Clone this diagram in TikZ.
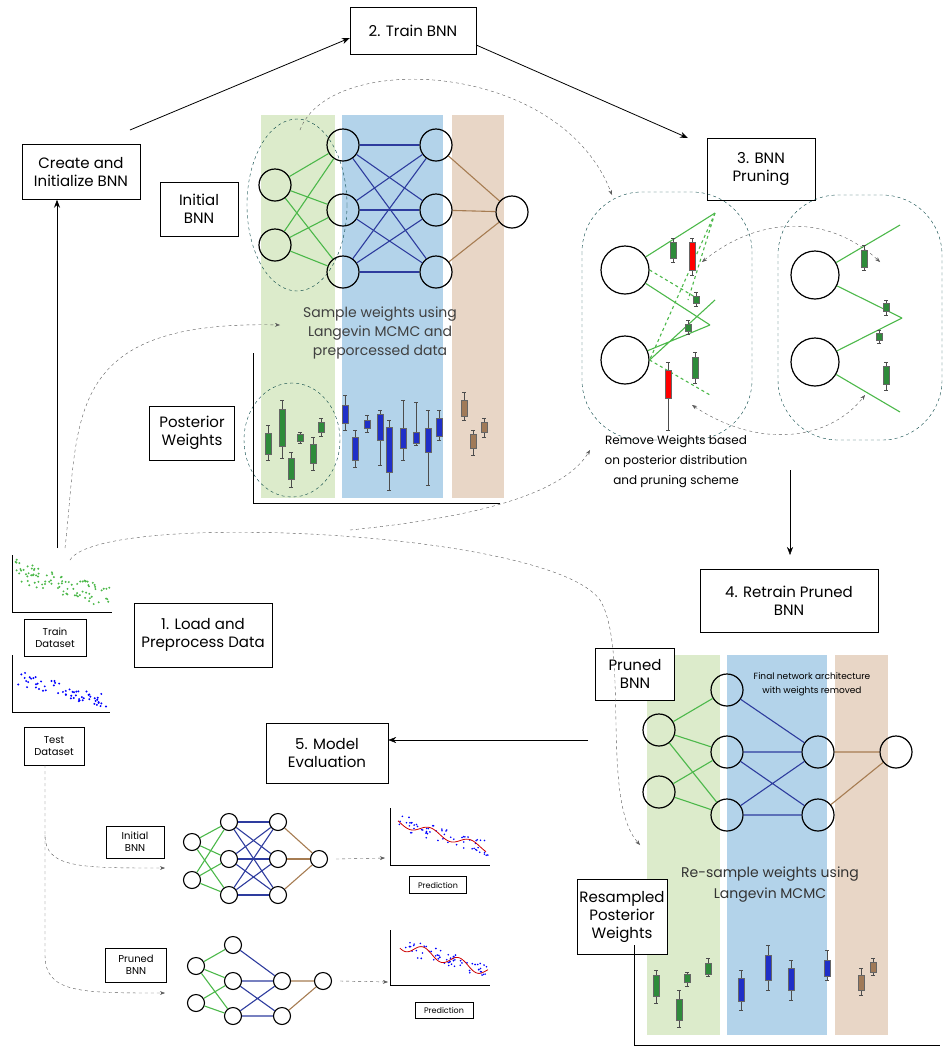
\documentclass[tikz,border=0pt]{standalone}
\usepackage{fontspec}
\setmainfont{Poppins}
\usetikzlibrary{arrows.meta}
\definecolor{gcol}{HTML}{DCEBCB}
\definecolor{bcol}{HTML}{B3D3EA}
\definecolor{tcol}{HTML}{E8D6C6}
\definecolor{ge}{HTML}{4CB84A}
\definecolor{be}{HTML}{2E3C9E}
\definecolor{te}{HTML}{A67C52}
\definecolor{bg}{HTML}{2E8B3A}
\definecolor{bb}{HTML}{1F2FC8}
\definecolor{bt}{HTML}{A07A58}
\newcommand\bxp[6]{\draw[black!70,thin] (#1,#2)--(#1,#5) (#1-2,#2)--(#1+2,#2) (#1-2,#5)--(#1+2,#5);
 \fill[#6,draw=black!60,thin] (#1-3,#3) rectangle (#1+3,#4);}
\begin{document}
\begin{tikzpicture}[x=1pt,y=-1pt,
 box/.style={draw,thin,fill=white,align=center,font=\fontsize{15}{18}\selectfont,inner sep=0pt},
 sbox/.style={draw,thin,fill=white,align=center,font=\fontsize{10}{12}\selectfont,inner sep=0pt},
 nd/.style={circle,draw,line width=1.2pt,minimum size=32pt,inner sep=0pt},
 bn/.style={circle,draw,line width=1.2pt,fill=white,minimum size=48pt,inner sep=0pt},
 mn/.style={circle,draw,line width=1.1pt,fill=white,minimum size=17pt,inner sep=0pt},
 ed/.style={line width=1.1pt},
 arr/.style={-{Stealth[length=8pt]},thick},
 dsh/.style={dashed,black!65,-{Stealth[length=5pt]},thin},
 dell/.style={dashed,draw=teal!50!black,thin}]
\useasboundingbox (0,0) rectangle (949,1053);
% top columns
\fill[gcol] (261,115) rectangle (335,498);
\fill[bcol] (342,115) rectangle (443,498);
\fill[tcol] (452,115) rectangle (504,498);
\draw[dell] (297,205) ellipse (50 and 86);
\draw[dell] (292,440) ellipse (48 and 57);
\node[nd] (a1) at (275,185) {}; \node[nd] (a2) at (275,245) {};
\node[nd] (b1) at (343,145) {}; \node[nd] (b2) at (343,210) {}; \node[nd] (b3) at (343,272) {};
\node[nd] (c1) at (436,145) {}; \node[nd] (c2) at (436,210) {}; \node[nd] (c3) at (436,272) {};
\node[nd] (o) at (512,212) {};
\foreach \i in {a1,a2} \foreach \j in {b1,b2,b3} \draw[ge,ed] (\i)--(\j);
\foreach \i in {b1,b2,b3} \foreach \j in {c1,c2,c3} \draw[be,ed] (\i)--(\j);
\foreach \i in {c1,c2,c3} \draw[te,ed] (\i)--(o);
\node[align=center,font=\fontsize{14}{19}\selectfont,text=black!75] (st) at (380,333) {Sample weights using\\Langevin MCMC and\\preporcessed data};
\draw[thick] (253,353)--(253,503)--(500,503);
\bxp{268}{425}{433}{454}{460}{bg}\bxp{282}{400}{409}{446}{458}{bg}\bxp{291}{452}{458}{479}{487}{bg}
\bxp{300}{432}{434}{441}{443}{bg}\bxp{313}{437}{444}{463}{470}{bg}\bxp{321}{418}{422}{432}{436}{bg}
\bxp{345}{395}{405}{423}{430}{bb}\bxp{355}{430}{437}{460}{467}{bb}\bxp{367}{415}{420}{428}{432}{bb}
\bxp{380}{410}{414}{440}{465}{bb}\bxp{389}{420}{427}{472}{490}{bb}\bxp{403}{400}{428}{448}{460}{bb}
\bxp{416}{402}{432}{443}{445}{bb}\bxp{428}{410}{428}{452}{485}{bb}\bxp{439}{410}{418}{436}{440}{bb}
\bxp{464}{392}{400}{416}{420}{bt}\bxp{473}{430}{434}{448}{455}{bt}\bxp{484}{418}{422}{432}{437}{bt}
% boxes
\node[box,minimum width=118pt,minimum height=55pt] (create) at (81,172) {Create and\\Initialize BNN};
\node[box,minimum width=126pt,minimum height=47pt] (train) at (413,31) {2. Train BNN};
\node[box,minimum width=108pt,minimum height=62pt] (prune) at (761,169) {3. BNN\\Pruning};
\node[box,minimum width=78pt,minimum height=54pt] (ini) at (199,209) {Initial\\BNN};
\node[box,minimum width=85pt,minimum height=54pt] (pw) at (192,433) {Posterior\\Weights};
\node[box,minimum width=178pt,minimum height=63pt] (retrain) at (789,601) {4. Retrain Pruned\\BNN};
\node[box,minimum width=122pt,minimum height=60pt] (eval) at (327,753) {5. Model\\Evaluation};
\node[box,minimum width=138pt,minimum height=64pt] (load) at (203,635) {1. Load and\\Preprocess Data};
\draw[arr] (130,130) -- (train.west|-0,38);
\draw[arr] (train.east|-0,45) -- (688,138);
\draw[arr] (57,548) -- (create.south-|57,0);
% pruning
\draw[dell,rounded corners=60pt] (582,192) rectangle (752,440);
\draw[dell,rounded corners=60pt] (778,195) rectangle (942,440);
\node[bn] (p1) at (625,270) {}; \node[bn] (p2) at (625,360) {};
\node[bn] (q1) at (815,275) {}; \node[bn] (q2) at (815,362) {};
\draw[ge,ed] (p1)--(715,213) (p1)--(710,325) (p2)--(710,325) (p2.east)--(715,300);
\draw[ge,ed,dashed] (715,213)--(688,300) (p1.east)--(700,300) (p2.east)--(710,395) (715,213)--(p2.east);
\draw[ge,ed] (q1)--(900,225) (q1)--(902,318) (q2)--(902,318) (q2)--(900,412);
\bxp{673}{238}{242}{258}{262}{bg}\bxp{692}{238}{242}{270}{275}{red}\bxp{696}{292}{296}{303}{306}{bg}
\bxp{688}{320}{324}{331}{334}{bg}\bxp{695}{352}{357}{378}{383}{bg}\bxp{668}{362}{370}{398}{430}{red}
\bxp{864}{245}{250}{267}{270}{bg}\bxp{886}{300}{303}{311}{315}{bg}\bxp{879}{330}{333}{340}{343}{bg}\bxp{886}{362}{366}{384}{390}{bg}
\draw[dsh,{Stealth[length=5pt]}-{Stealth[length=5pt]}] (702,262) .. controls (760,215) and (830,215) .. (880,262);
\draw[dsh,{Stealth[length=5pt]}-{Stealth[length=5pt]}] (692,405) .. controls (760,450) and (830,440) .. (865,395);
\node[align=center,font=\fontsize{12}{20}\selectfont] (rm) at (676,462) {Remove Weights based\\on posterior distribution\\and pruning scheme};
\draw[arr,thin] (790,470) -- (790,555);
% bottom right
\fill[gcol] (647,655) rectangle (720,1035);
\fill[bcol] (727,655) rectangle (827,1035);
\fill[tcol] (835,655) rectangle (888,1035);
\node[box,minimum width=79pt,minimum height=52pt] (pbnn) at (635,674) {Pruned\\BNN};
\node[nd] (d1) at (659,730) {}; \node[nd] (d2) at (659,792) {};
\node[nd] (e1) at (727,690) {}; \node[nd] (e2) at (727,752) {}; \node[nd] (e3) at (727,815) {};
\node[nd] (f1) at (818,752) {}; \node[nd] (f2) at (818,815) {};
\node[nd] (g) at (896,752) {};
\draw[ge,ed] (d1)--(e1) (d1)--(e2) (d1)--(e3) (d2)--(e2) (d2)--(e3);
\draw[be,ed] (e1)--(f1) (e2)--(f1) (e2)--(f2) (e3)--(f1) (e3)--(f2);
\draw[te,ed] (f1)--(g) (f2)--(g);
\node[align=center,font=\fontsize{9}{14}\selectfont] (fin) at (812,684) {Final network architecture\\with weights removed};
\node[align=center,font=\fontsize{14}{21}\selectfont,text=black!80] (rs) at (770,885) {Re-sample weights using\\Langevin MCMC};
\node[box,minimum width=90pt,minimum height=75pt] (rpw) at (622,917) {Resampled\\Posterior\\Weights};
\draw[thick] (634,945)--(634,1045)--(940,1045);
\bxp{656}{970}{975}{996}{1003}{bg}\bxp{679}{990}{999}{1020}{1027}{bg}\bxp{687}{972}{974}{982}{986}{bg}
\bxp{708}{958}{963}{974}{976}{bg}\bxp{741}{970}{978}{1001}{1010}{bb}\bxp{768}{945}{955}{980}{990}{bb}
\bxp{791}{960}{968}{990}{1000}{bb}\bxp{827}{950}{960}{976}{980}{bb}\bxp{861}{968}{975}{990}{995}{bt}\bxp{873}{958}{962}{972}{975}{bt}
\draw[arr,thin] (588,740) -- (eval.east|-0,740);
% datasets
\draw[thin] (12,555)--(12,612)--(112,612);
\foreach \i in {0,...,90} {\pgfmathsetmacro\xx{15+rnd*95}\pgfmathsetmacro\yy{570+(\xx-15)*0.3+rnd*22-11}
 \fill[ge] (\xx,\yy) circle (1.1);}
\node[sbox,minimum width=62pt,minimum height=37pt] (trd) at (55,638) {Train\\Dataset};
\draw[thin] (12,655)--(12,712)--(110,712);
\foreach \i in {0,...,60} {\pgfmathsetmacro\xx{18+rnd*88}\pgfmathsetmacro\yy{678+(\xx-18)*0.27+rnd*14-7}
 \fill[blue] (\xx,\yy) circle (1.1);}
\node[sbox,minimum width=60pt,minimum height=38pt] (ted) at (54,746) {Test\\Dataset};
% mini nets
\node[sbox,minimum width=58pt,minimum height=32pt] (ib) at (135,842) {Initial\\BNN};
\node[mn] (m1) at (192,842) {}; \node[mn] (m2) at (192,880) {};
\node[mn] (n1) at (229,822) {}; \node[mn] (n2) at (229,859) {}; \node[mn] (n3) at (229,895) {};
\node[mn] (k1) at (278,822) {}; \node[mn] (k2) at (278,859) {}; \node[mn] (k3) at (278,895) {};
\node[mn] (mo) at (319,859) {};
\foreach \i in {m1,m2} \foreach \j in {n1,n2,n3} \draw[ge,ed] (\i)--(\j);
\foreach \i in {n1,n2,n3} \foreach \j in {k1,k2,k3} \draw[be,ed] (\i)--(\j);
\foreach \i in {k1,k2,k3} \draw[te,ed] (\i)--(mo);
\node[sbox,minimum width=61pt,minimum height=34pt] (pb) at (136,965) {Pruned\\BNN};
\node[mn] (r1) at (196,966) {}; \node[mn] (r2) at (196,1003) {};
\node[mn] (s1) at (233,945) {}; \node[mn] (s2) at (233,981) {}; \node[mn] (s3) at (233,1016) {};
\node[mn] (t1) at (282,981) {}; \node[mn] (t2) at (282,1016) {};
\node[mn] (ro) at (323,981) {};
\draw[ge,ed] (r1)--(s1) (r1)--(s2) (r1)--(s3) (r2)--(s2) (r2)--(s3);
\draw[be,ed] (s1)--(t1) (s2)--(t1) (s2)--(t2) (s3)--(t1) (s3)--(t2);
\draw[te,ed] (t1)--(ro) (t2)--(ro);
% predictions
\draw[thin] (390,808)--(390,865)--(490,865);
\foreach \i in {0,...,60} {\pgfmathsetmacro\xx{398+rnd*90}\pgfmathsetmacro\yy{822+(\xx-398)*0.3+rnd*16-8}\fill[blue] (\xx,\yy) circle (0.9);}
\draw[red!80!black,thick,domain=398:486,samples=60,smooth] plot (\x,{822+(\x-398)*0.3+4*sin(\x*9)});
\node[sbox,font=\fontsize{8}{10}\selectfont,minimum width=57pt,minimum height=17pt] (pr1) at (438,885) {Prediction};
\draw[thin] (390,930)--(390,985)--(490,985);
\foreach \i in {0,...,60} {\pgfmathsetmacro\xx{400+rnd*88}\pgfmathsetmacro\yy{945+(\xx-400)*0.3+rnd*16-8}\fill[blue] (\xx,\yy) circle (0.9);}
\draw[red!80!black,thick,domain=400:488,samples=60,smooth] plot (\x,{945+(\x-400)*0.3+5*sin(\x*10)});
\node[sbox,font=\fontsize{8}{10}\selectfont,minimum width=58pt,minimum height=16pt] (pr2) at (444,1010) {Prediction};
% dashed flows
\draw[dsh] (mo.east)++(8,0) -- (385,858);
\draw[dsh] (ro.east)++(8,0) -- (388,982);
\draw[dsh] (ted.south-|45,0) -- (45,835) .. controls (45,868) and (80,868) .. (165,868);
\draw[dsh] (45,835) -- (45,955) .. controls (45,993) and (80,993) .. (165,993);
\draw[dsh] (65,548) .. controls (80,420) and (60,320) .. (280,325);
\draw[dsh] (70,560) .. controls (100,510) and (550,530) .. (600,600) .. controls (630,650) and (600,800) .. (640,845);
\draw[dsh] (300,130) .. controls (330,50) and (560,60) .. (612,195);
\draw[dsh] (350,530) .. controls (450,520) and (560,500) .. (590,450);
\end{tikzpicture}
\end{document}
